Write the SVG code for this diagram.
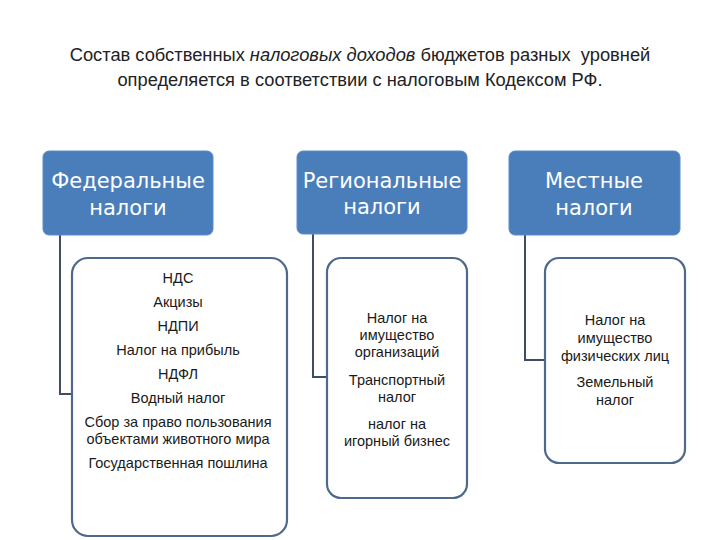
<svg xmlns="http://www.w3.org/2000/svg" width="720" height="540" viewBox="0 0 720 540">
<style>
.title{font-family:"Liberation Sans",Arial,sans-serif;font-size:18.3px;fill:#222;text-anchor:middle}
.hdr{fill:#4a7ebb;stroke:#5b8cc8;stroke-width:1}
.htxt{font-family:"DejaVu Sans",Verdana,sans-serif;font-size:21px;fill:#ffffff;text-anchor:middle}
.box{fill:#ffffff;stroke:#4d6a8c;stroke-width:2.2}
.ltxt{font-family:"Liberation Sans",Arial,sans-serif;font-size:14.5px;fill:#1a1a1a;text-anchor:middle}
.conn{fill:none;stroke:#3c4e66;stroke-width:2}
</style>
<rect width="720" height="540" fill="#ffffff"/>
<g id="title">
<text class="title" x="360" y="61" xml:space="preserve">Состав собственных <tspan font-style="italic">налоговых доходов</tspan> бюджетов разных  уровней</text>
<text class="title" x="360" y="86">определяется в соответствии с налоговым Кодексом РФ.</text>
</g>
<g id="connectors">
<path class="conn" d="M60,235 V394 H72"/>
<path class="conn" d="M313,234 V377 H327"/>
<path class="conn" d="M525,235 V360 H545"/>
</g>
<g id="federal">
<rect class="hdr" x="43" y="151" width="170" height="84" rx="6"/>
<text class="htxt" x="128" y="188">Федеральные</text>
<text class="htxt" x="128" y="215">налоги</text>
</g>
<g id="regional">
<rect class="hdr" x="297" y="151" width="170" height="83" rx="6"/>
<text class="htxt" x="382" y="188">Региональные</text>
<text class="htxt" x="382" y="214">налоги</text>
</g>
<g id="local">
<rect class="hdr" x="509" y="151" width="171" height="84" rx="6"/>
<text class="htxt" x="594" y="188">Местные</text>
<text class="htxt" x="594" y="215">налоги</text>
</g>
<g id="federal-list">
<rect class="box" x="72" y="258" width="215" height="278" rx="16"/>
<text class="ltxt" x="178" y="283">НДС</text>
<text class="ltxt" x="178" y="307">Акцизы</text>
<text class="ltxt" x="178" y="331">НДПИ</text>
<text class="ltxt" x="178" y="355">Налог на прибыль</text>
<text class="ltxt" x="178" y="379">НДФЛ</text>
<text class="ltxt" x="178" y="403">Водный налог</text>
<text class="ltxt" x="178" y="427">Сбор за право пользования</text>
<text class="ltxt" x="178" y="444">объектами животного мира</text>
<text class="ltxt" x="178" y="468">Государственная пошлина</text>
</g>
<g id="regional-list">
<rect class="box" x="327" y="258" width="140" height="240" rx="14"/>
<text class="ltxt" x="397" y="323">Налог на</text>
<text class="ltxt" x="397" y="340">имущество</text>
<text class="ltxt" x="397" y="357">организаций</text>
<text class="ltxt" x="397" y="385">Транспортный</text>
<text class="ltxt" x="397" y="402">налог</text>
<text class="ltxt" x="397" y="429">налог на</text>
<text class="ltxt" x="397" y="446">игорный бизнес</text>
</g>
<g id="local-list">
<rect class="box" x="545" y="258" width="140" height="205" rx="14"/>
<text class="ltxt" x="615" y="325">Налог на</text>
<text class="ltxt" x="615" y="343">имущество</text>
<text class="ltxt" x="615" y="361">физических лиц</text>
<text class="ltxt" x="615" y="387">Земельный</text>
<text class="ltxt" x="615" y="405">налог</text>
</g>
</svg>
